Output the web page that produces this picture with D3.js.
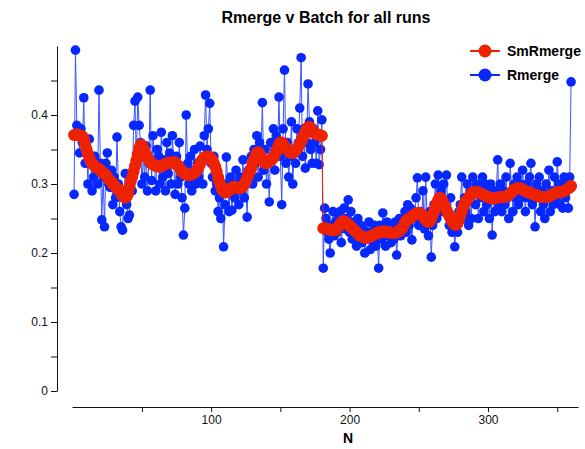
<!DOCTYPE html>
<html>
<head>
<meta charset="utf-8">
<script src="https://cdn.jsdelivr.net/npm/d3@7"></script>
<style>
  body { margin: 0; background: #fff; }
  svg { font-family: "Liberation Sans", Arial, sans-serif; }
</style>
</head>
<body>
<svg id="chart" width="585" height="449"></svg>
<script>
// Rmerge per batch, N = 1..360
const rmerge = [
  0.285,0.494,0.385,0.370,0.345,0.380,0.360,0.425,0.330,0.355,
  0.300,0.365,0.335,0.290,0.310,0.340,0.320,0.300,0.436,0.330,
  0.248,0.310,0.238,0.330,0.345,0.300,0.295,0.320,0.270,0.310,
  0.280,0.368,0.300,0.260,0.238,0.233,0.290,0.315,0.270,0.250,
  0.255,0.300,0.290,0.385,0.420,0.330,0.426,0.385,0.360,0.300,
  0.340,0.310,0.355,0.290,0.330,0.436,0.305,0.370,0.330,0.290,
  0.350,0.340,0.300,0.375,0.310,0.335,0.290,0.360,0.315,0.345,
  0.300,0.370,0.330,0.285,0.340,0.300,0.360,0.310,0.280,0.226,
  0.265,0.400,0.330,0.300,0.340,0.290,0.320,0.350,0.300,0.330,
  0.310,0.355,0.330,0.300,0.370,0.429,0.350,0.380,0.417,0.330,
  0.310,0.340,0.290,0.300,0.260,0.280,0.250,0.300,0.209,0.270,
  0.339,0.300,0.260,0.310,0.262,0.300,0.280,0.320,0.300,0.270,
  0.310,0.290,0.335,0.280,0.300,0.252,0.320,0.310,0.340,0.300,
  0.350,0.330,0.370,0.310,0.360,0.340,0.418,0.320,0.350,0.300,
  0.330,0.274,0.360,0.340,0.380,0.320,0.370,0.350,0.426,0.340,
  0.270,0.380,0.465,0.330,0.360,0.310,0.340,0.390,0.300,0.350,
  0.330,0.380,0.360,0.410,0.483,0.340,0.380,0.323,0.360,0.445,
  0.390,0.350,0.330,0.380,0.360,0.330,0.406,0.328,0.350,0.393,
  0.178,0.265,0.250,0.230,0.220,0.200,0.240,0.260,0.225,0.245,
  0.230,0.250,0.260,0.215,0.240,0.265,0.235,0.250,0.277,0.230,
  0.260,0.220,0.245,0.235,0.210,0.250,0.225,0.240,0.215,0.235,
  0.200,0.230,0.220,0.245,0.205,0.230,0.215,0.240,0.210,0.225,
  0.178,0.240,0.220,0.258,0.230,0.210,0.245,0.225,0.235,0.215,
  0.240,0.220,0.245,0.197,0.230,0.250,0.225,0.245,0.240,0.260,
  0.230,0.270,0.240,0.265,0.219,0.255,0.250,0.280,0.309,0.240,
  0.260,0.245,0.290,0.235,0.310,0.250,0.225,0.260,0.194,0.240,
  0.270,0.300,0.250,0.313,0.280,0.290,0.260,0.300,0.270,0.313,
  0.260,0.240,0.280,0.230,0.250,0.209,0.245,0.230,0.260,0.270,
  0.310,0.250,0.280,0.260,0.300,0.240,0.290,0.250,0.310,0.290,
  0.270,0.300,0.250,0.290,0.280,0.310,0.260,0.300,0.270,0.290,
  0.250,0.300,0.226,0.280,0.260,0.290,0.335,0.270,0.300,0.260,
  0.290,0.270,0.310,0.280,0.250,0.330,0.290,0.260,0.300,0.280,
  0.310,0.270,0.300,0.280,0.320,0.290,0.260,0.300,0.280,0.310,
  0.330,0.270,0.290,0.238,0.300,0.280,0.310,0.260,0.290,0.270,
  0.250,0.300,0.280,0.320,0.260,0.290,0.270,0.310,0.280,0.332,
  0.300,0.270,0.290,0.265,0.310,0.280,0.300,0.265,0.310,0.448
];

// smoothed Rmerge
const smRmerge = [
  0.371,0.371,0.372,0.371,0.370,0.370,0.369,0.366,0.358,0.350,
  0.344,0.338,0.333,0.330,0.328,0.326,0.324,0.323,0.322,0.320,
  0.318,0.316,0.315,0.313,0.310,0.307,0.305,0.303,0.300,0.298,
  0.296,0.294,0.292,0.289,0.286,0.283,0.281,0.280,0.282,0.286,
  0.296,0.305,0.310,0.318,0.326,0.334,0.343,0.352,0.357,0.356,
  0.352,0.347,0.342,0.338,0.335,0.332,0.330,0.328,0.327,0.326,
  0.326,0.325,0.325,0.326,0.327,0.328,0.329,0.330,0.331,0.330,
  0.330,0.331,0.332,0.331,0.329,0.327,0.324,0.321,0.318,0.316,
  0.315,0.314,0.313,0.313,0.313,0.314,0.315,0.316,0.318,0.321,
  0.325,0.329,0.333,0.336,0.338,0.339,0.340,0.340,0.339,0.337,
  0.334,0.330,0.325,0.318,0.310,0.303,0.297,0.292,0.289,0.288,
  0.288,0.289,0.291,0.293,0.295,0.296,0.296,0.295,0.294,0.294,
  0.294,0.295,0.297,0.300,0.304,0.309,0.314,0.318,0.323,0.330,
  0.336,0.341,0.345,0.346,0.344,0.340,0.336,0.332,0.330,0.330,
  0.331,0.333,0.335,0.336,0.338,0.342,0.347,0.352,0.357,0.360,
  0.360,0.358,0.355,0.352,0.350,0.348,0.346,0.345,0.345,0.346,
  0.348,0.351,0.354,0.358,0.362,0.366,0.370,0.375,0.379,0.382,
  0.383,0.381,0.378,0.375,0.373,0.372,0.372,0.371,0.370,0.370,
  0.236,0.236,0.235,0.235,0.234,0.234,0.233,0.233,0.233,0.233,
  0.235,0.238,0.241,0.244,0.246,0.246,0.245,0.243,0.241,0.240,
  0.238,0.236,0.234,0.232,0.230,0.228,0.226,0.225,0.224,0.223,
  0.222,0.222,0.222,0.223,0.224,0.225,0.226,0.227,0.228,0.229,
  0.230,0.230,0.230,0.231,0.231,0.231,0.230,0.230,0.230,0.229,
  0.229,0.229,0.229,0.230,0.231,0.232,0.234,0.236,0.240,0.244,
  0.247,0.249,0.250,0.251,0.252,0.254,0.256,0.257,0.258,0.258,
  0.258,0.256,0.254,0.251,0.248,0.246,0.245,0.246,0.250,0.255,
  0.260,0.266,0.272,0.277,0.280,0.279,0.276,0.271,0.266,0.262,
  0.258,0.254,0.250,0.246,0.243,0.241,0.241,0.243,0.248,0.254,
  0.260,0.266,0.271,0.275,0.277,0.280,0.283,0.286,0.288,0.288,
  0.288,0.288,0.288,0.287,0.286,0.285,0.284,0.283,0.282,0.281,
  0.280,0.280,0.279,0.279,0.279,0.280,0.280,0.281,0.281,0.281,
  0.281,0.281,0.282,0.283,0.284,0.286,0.288,0.290,0.292,0.293,
  0.294,0.294,0.294,0.293,0.292,0.291,0.290,0.289,0.288,0.287,
  0.287,0.286,0.285,0.284,0.284,0.283,0.282,0.282,0.281,0.281,
  0.281,0.281,0.281,0.282,0.283,0.284,0.285,0.286,0.287,0.288,
  0.288,0.288,0.288,0.289,0.290,0.291,0.292,0.294,0.295,0.297
];

const xTicks = [100, 200, 300];
const xMinorTicks = [50, 150, 250, 350];
const yTicks = [0, 0.1, 0.2, 0.3, 0.4];
const yMinorTicks = [0.05, 0.15, 0.25, 0.35, 0.45];
const seriesNames = ["SmRmerge", "Rmerge"];

const blue = "#0628ff";
const blueLine = "#3a55ff";
const red = "#ee2200";

const svg = d3.select("#chart");

const xScale = d3.scaleLinear().domain([-0.5, 365]).range([72, 578]);
const yScale = d3.scaleLinear().domain([0, 0.5]).range([391, 46]);

const blueData = rmerge.map((v, i) => ({n: i + 1, v}));
const redData = smRmerge.map((v, i) => ({n: i + 1, v}));

// title
svg.append("text")
   .attr("x", 326).attr("y", 23)
   .attr("text-anchor", "middle")
   .style("font-size", "16px").style("font-weight", "bold")
   .text("Rmerge v Batch for all runs");

// y axis
const yAxis = d3.axisLeft(yScale).tickValues(yTicks).tickSize(6).tickSizeOuter(0).tickFormat(d3.format("~g"));
svg.append("g").attr("transform", "translate(57,0)").call(yAxis);
svg.append("g").attr("transform", "translate(57,0)")
   .call(d3.axisLeft(yScale).tickValues(yMinorTicks).tickSize(6).tickSizeOuter(0).tickFormat(""))
   .select(".domain").remove();

// x axis
const xAxis = d3.axisBottom(xScale).tickValues(xTicks).tickSize(5).tickSizeOuter(0);
svg.append("g").attr("transform", "translate(0,407)").call(xAxis);
svg.append("g").attr("transform", "translate(0,407)")
   .call(d3.axisBottom(xScale).tickValues(xMinorTicks).tickSize(5).tickSizeOuter(0).tickFormat(""))
   .select(".domain").remove();

svg.selectAll(".tick text").style("font-size", "12px").style("fill", "#111");
svg.selectAll(".domain, .tick line").attr("stroke", "#111");

svg.append("text")
   .attr("x", 348).attr("y", 443)
   .attr("text-anchor", "middle")
   .style("font-size", "14px").style("font-weight", "bold")
   .text("N");

const line = d3.line().x(d => xScale(d.n)).y(d => yScale(d.v));

// Rmerge
svg.append("path").datum(blueData)
   .attr("d", line).attr("fill", "none").attr("stroke", blueLine).attr("stroke-width", 1);
svg.append("g").selectAll("circle").data(blueData).join("circle")
   .attr("cx", d => xScale(d.n)).attr("cy", d => yScale(d.v))
   .attr("r", 4.8).attr("fill", blue);

// SmRmerge
svg.append("path").datum(redData)
   .attr("d", line).attr("fill", "none").attr("stroke", red).attr("stroke-width", 1);
svg.append("g").selectAll("circle").data(redData).join("circle")
   .attr("cx", d => xScale(d.n)).attr("cy", d => yScale(d.v))
   .attr("r", 6).attr("fill", red);

// legend
const legend = svg.append("g").attr("transform", "translate(470,51)");
seriesNames.forEach((name, i) => {
  const c = i === 0 ? red : blue;
  const g = legend.append("g").attr("transform", `translate(0,${i * 24})`);
  g.append("line").attr("x1", 0).attr("x2", 30).attr("y1", 0).attr("y2", 0)
   .attr("stroke", c).attr("stroke-width", 2);
  g.append("circle").attr("cx", 15).attr("cy", 0).attr("r", 6.5).attr("fill", c);
  g.append("text").attr("x", 37).attr("y", 0).attr("dy", "0.35em")
   .style("font-size", "14px").style("font-weight", "bold").text(name);
});
</script>
</body>
</html>
